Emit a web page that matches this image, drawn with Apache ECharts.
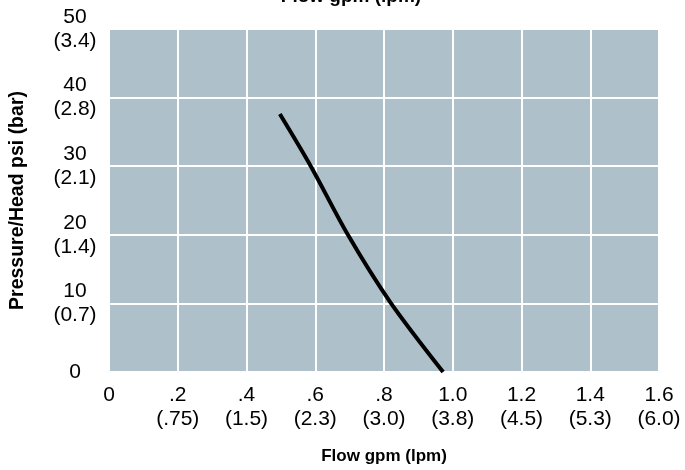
<!DOCTYPE html>
<html>
<head>
<meta charset="utf-8">
<script src="https://cdn.jsdelivr.net/npm/echarts@6/dist/echarts.min.js"></script>
<style>
html,body{margin:0;padding:0;background:#fff;}
#c{width:685px;height:470px;}
</style>
</head>
<body>
<div id="c"></div>
<script>
// Data
var flowGpm = [0.497, 0.587, 0.695, 0.818, 0.972];
var pressurePsi = [37.6, 30.0, 20.0, 10.2, 0];

var xTickValues = [0, 0.2, 0.4, 0.6, 0.8, 1.0, 1.2, 1.4, 1.6];
var xTickLabels = ['0', '.2\n(.75)', '.4\n(1.5)', '.6\n(2.3)', '.8\n(3.0)', '1.0\n(3.8)', '1.2\n(4.5)', '1.4\n(5.3)', '1.6\n(6.0)'];
var yTickValues = [0, 10, 20, 30, 40, 50];
var yTickLabels = ['0', '10\n(0.7)', '20\n(1.4)', '30\n(2.1)', '40\n(2.8)', '50\n(3.4)'];

var titleText = 'Flow gpm (lpm)';
var xName = 'Flow gpm (lpm)';
var yName = 'Pressure/Head psi (bar)';

function lookup(vals, labels, v) {
  for (var i = 0; i < vals.length; i++) {
    if (Math.abs(vals[i] - v) < 1e-6) return labels[i];
  }
  return '';
}

var chart = echarts.init(document.getElementById('c'), null, {renderer: 'canvas'});
var tickFont = 'Liberation Sans, Arial, sans-serif';
var boldFont = 'Liberation Sans, Arial, sans-serif';

chart.setOption({
  animation: false,
  backgroundColor: '#ffffff',
  graphic: [{
    type: 'text',
    x: 351,
    y: -13,
    style: {
      text: titleText,
      font: 'bold 19px ' + boldFont,
      fill: '#000',
      textAlign: 'center'
    }
  }],
  grid: {
    left: 109, right: 26, top: 29, bottom: 97,
    show: true, backgroundColor: '#aec1ca', borderWidth: 0
  },
  xAxis: {
    type: 'value', min: 0, max: 1.6, interval: 0.2,
    name: xName, nameLocation: 'middle', nameGap: 76,
    nameTextStyle: {fontFamily: boldFont, fontWeight: 'bold', fontSize: 17, color: '#000'},
    axisLine: {show: false}, axisTick: {show: false},
    splitLine: {show: true, lineStyle: {color: '#ffffff', width: 2}},
    axisLabel: {
      margin: 11, fontFamily: tickFont, fontSize: 21, lineHeight: 24, color: '#000',
      formatter: function (v) { return lookup(xTickValues, xTickLabels, v); }
    }
  },
  yAxis: {
    type: 'value', min: 0, max: 50, interval: 10,
    name: yName, nameLocation: 'middle', nameGap: 81, nameRotate: 90,
    nameTextStyle: {fontFamily: boldFont, fontWeight: 'bold', fontSize: 19.5, color: '#000'},
    axisLine: {show: false}, axisTick: {show: false},
    splitLine: {show: true, lineStyle: {color: '#ffffff', width: 2}},
    axisLabel: {
      margin: 34, fontFamily: tickFont, fontSize: 21, lineHeight: 24, color: '#000', align: 'center',
      padding: [7, 0, 0, 0],
      formatter: function (v) { return lookup(yTickValues, yTickLabels, v); }
    }
  },
  series: [{
    type: 'line',
    data: flowGpm.map(function (f, i) { return [f, pressurePsi[i]]; }),
    smooth: 0.3,
    showSymbol: false,
    lineStyle: {color: '#000', width: 4, cap: 'butt'},
    clip: true
  }]
});
</script>
</body>
</html>
